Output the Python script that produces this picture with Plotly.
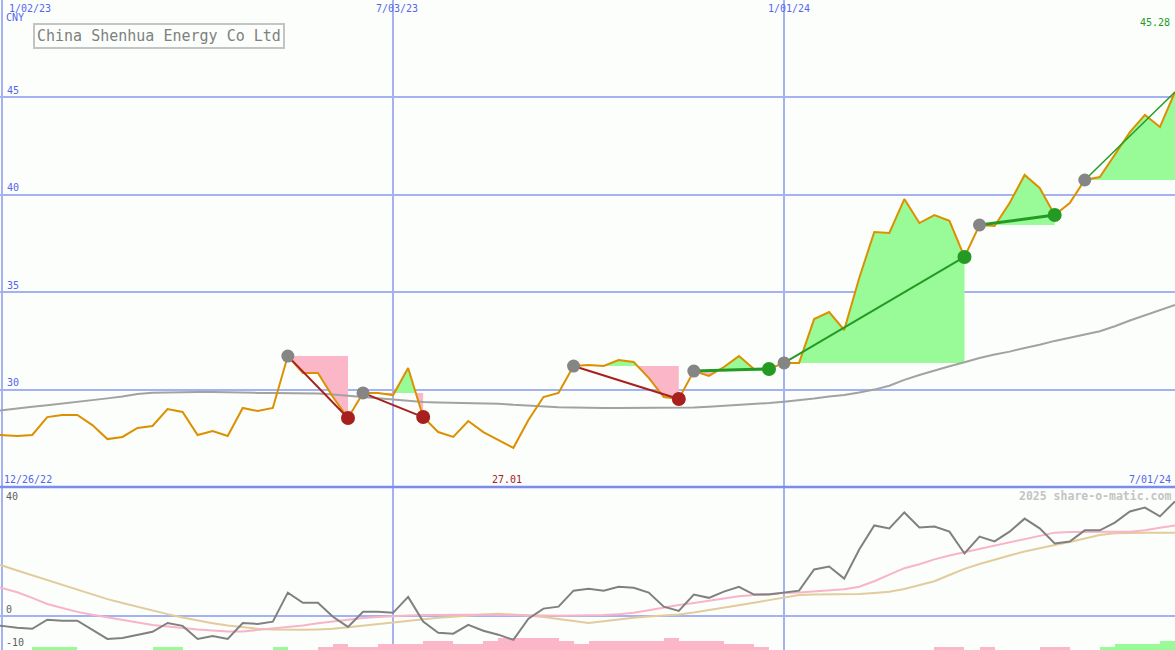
import plotly.graph_objects as go
import pandas as pd

# ---------------- data ----------------
start = pd.Timestamp("2022-12-26")
dates = [start + pd.Timedelta(weeks=i) for i in range(80)]

price = [27.70, 27.67, 27.62, 27.67, 28.59, 28.70, 28.70, 28.18, 27.46, 27.57,
         28.03, 28.13, 29.00, 28.85, 27.67, 27.87, 27.62, 29.06, 28.90, 29.06,
         31.72, 30.85, 30.85, 29.62, 28.54, 29.83, 29.83, 29.72, 31.11, 28.59,
         27.82, 27.57, 28.39, 27.82, 27.41, 27.01, 28.44, 29.62, 29.83, 31.21,
         31.26, 31.21, 31.52, 31.42, 30.60, 29.62, 29.52, 30.95, 30.70, 31.16,
         31.72, 31.06, 31.06, 31.37, 31.37, 33.62, 33.98, 33.06, 35.73, 38.09,
         38.04, 39.78, 38.55, 38.96, 38.66, 36.81, 38.45, 38.40, 39.58, 41.02,
         40.35, 38.96, 39.58, 40.76, 40.91, 42.04, 43.22, 44.10, 43.48, 45.28]

ma = [28.85, 28.95, 29.05, 29.12, 29.20, 29.28, 29.36, 29.45, 29.55, 29.65,
      29.78, 29.84, 29.86, 29.88, 29.88, 29.88, 29.86, 29.83, 29.83, 29.83,
      29.83, 29.83, 29.80, 29.75, 29.68, 29.62, 29.55, 29.48, 29.42, 29.36,
      29.34, 29.33, 29.32, 29.31, 29.28, 29.22, 29.17, 29.12, 29.10, 29.08,
      29.06, 29.06, 29.06, 29.06, 29.06, 29.06, 29.06, 29.08, 29.12, 29.16,
      29.22, 29.27, 29.31, 29.38, 29.45, 29.54, 29.64, 29.72, 29.85, 30.00,
      30.20, 30.50, 30.75, 30.98, 31.20, 31.40, 31.62, 31.80, 31.95, 32.14,
      32.30, 32.50, 32.68, 32.83, 33.00, 33.25, 33.55, 33.80, 34.08, 34.34]

momentum = [-3.0, -3.1, -3.7, -4.0, -1.2, -1.5, -1.5, -4.3, -7.1, -6.8,
            -5.8, -4.9, -2.2, -3.1, -7.1, -6.2, -7.1, -2.2, -2.5, -1.8,
            7.1, 4.0, 4.0, -0.3, -3.4, 1.2, 1.2, 0.9, 5.8, -1.8,
            -5.2, -5.5, -2.8, -4.6, -5.8, -7.4, -0.9, 2.2, 2.8, 7.7,
            8.3, 7.7, 8.9, 8.6, 7.1, 2.8, 1.5, 6.5, 5.5, 7.4,
            8.9, 6.5, 6.5, 7.1, 7.7, 14.2, 15.1, 11.4, 20.3, 27.7,
            26.8, 31.7, 27.1, 27.4, 25.8, 19.1, 24.3, 22.8, 25.8, 29.8,
            26.8, 22.2, 22.8, 26.2, 26.2, 28.6, 32.0, 33.2, 30.5, 35.1]

signal_fast = [9.8, 8.6, 7.2, 5.5, 3.6, 2.4, 1.2, 0.3, -0.5, -1.3,
               -2.0, -2.8, -3.3, -3.8, -4.2, -4.5, -4.8, -4.8, -4.4, -4.0,
               -3.6, -3.0, -2.3, -1.7, -1.2, -0.7, -0.4, -0.1, 0.1, 0.2,
               0.3, 0.3, 0.3, 0.3, 0.3, 0.2, 0.1, 0.1, 0.0, 0.0,
               0.1, 0.2, 0.5, 0.9, 1.7, 2.6, 3.3, 3.9, 4.6, 5.3,
               6.0, 6.4, 6.8, 7.0, 7.1, 7.4, 7.7, 8.1, 8.9, 10.6,
               12.6, 14.6, 15.8, 17.3, 18.5, 19.5, 20.4, 21.4, 22.4, 23.6,
               24.6, 25.5, 25.7, 25.8, 25.8, 25.8, 25.8, 26.2, 27.0, 27.7]

signal_slow = [16.5, 15.4, 13.9, 12.4, 11.0, 9.5, 8.0, 6.5, 5.1, 3.9,
               2.7, 1.5, 0.5, -0.5, -1.5, -2.3, -3.0, -3.6, -4.0, -4.2,
               -4.3, -4.3, -4.2, -4.0, -3.5, -3.0, -2.5, -2.0, -1.5, -1.0,
               -0.6, -0.3, 0.1, 0.4, 0.6, 0.4, 0.1, -0.4, -1.0, -1.6,
               -2.2, -1.7, -1.1, -0.6, -0.2, 0.0, 0.4, 1.0, 1.7, 2.4,
               3.2, 4.0, 4.8, 5.6, 6.4, 6.5, 6.5, 6.5, 6.7, 7.0,
               7.4, 8.2, 9.3, 10.6, 12.5, 14.4, 15.9, 17.3, 18.5, 19.7,
               20.8, 21.7, 22.6, 23.7, 24.8, 25.3, 25.5, 25.5, 25.5, 25.5]

histogram = [0, 0, 0, 1, 1, 1, 0, 0, 0, 0,
             0, 1, 1, 0, 0, 0, 0, 0, 0, 1,
             0, 0, -1, -2, -1, -1, -2, -2, -2, -3,
             -3, -2, -2, -3, -4, -4, -4, -4, -3, -2,
             -3, -3, -3, -3, -3, -4, -3, -3, -3, -2,
             -2, -1, 0, 0, 0, 0, 0, 0, 0, 0,
             0, 0, 0, -1, -1, 0, -1, 0, 0, 0,
             -1, -1, 0, 0, 1, 2, 2, 2, 3, 3]

pivots = [(20, 24), (25, 29), (39, 46), (47, 52), (53, 65), (66, 71), (73, 79)]

title_text = "China Shenhua Energy Co Ltd"
grid_dates = ["2023-01-02", "2023-07-03", "2024-01-01"]
price_ticks = [30, 35, 40, 45]

# ---------------- styles ----------------
BG = "#fbfefb"
GRID = "#a4b2f2"
BLUE_TXT = "#5566ee"
ORANGE = "#dc9000"
GREEN_FILL = "#98fb98"
PINK_FILL = "#fbb6c8"
DOWN = "#a8201e"
UP = "#249a24"
PIVOT = "#858585"
FONT = "DejaVu Sans Mono"
W, H = 1175, 650
seg_widths = [2, 2, 2, 3, 2, 3, 1.5]

fig = go.Figure()

# fills between pivot level and price
for s, e in pivots:
    lvl = price[s]
    xs, ys = [], []
    for k in range(s, e + 1):
        if k > s:
            p0, p1 = price[k - 1] - lvl, price[k] - lvl
            if p0 * p1 < 0:
                f = p0 / (p0 - p1)
                xs.append(dates[k - 1] + (dates[k] - dates[k - 1]) * f)
                ys.append(lvl)
        xs.append(dates[k])
        ys.append(price[k])
    up = [max(v, lvl) for v in ys]
    dn = [min(v, lvl) for v in ys]
    base = [lvl] * len(xs)
    for arr, col in ((up, GREEN_FILL), (dn, PINK_FILL)):
        fig.add_trace(go.Scatter(x=xs, y=base, mode="lines", line=dict(width=0),
                                 hoverinfo="skip", showlegend=False))
        fig.add_trace(go.Scatter(x=xs, y=arr, mode="lines", line=dict(width=0),
                                 fill="tonexty", fillcolor=col,
                                 hoverinfo="skip", showlegend=False))

# moving average
fig.add_trace(go.Scatter(x=dates, y=ma, mode="lines",
                         line=dict(color="#a2a2a2", width=2), showlegend=False))
# price
fig.add_trace(go.Scatter(x=dates, y=price, mode="lines",
                         line=dict(color=ORANGE, width=2), showlegend=False))

# pivot connecting lines
for (s, e), w in zip(pivots, seg_widths):
    col = DOWN if price[e] < price[s] else UP
    fig.add_trace(go.Scatter(x=[dates[s], dates[e]], y=[price[s], price[e]],
                             mode="lines", line=dict(color=col, width=w),
                             showlegend=False))

# markers
starts = [s for s, e in pivots]
ends = [e for s, e in pivots[:-1]]
fig.add_trace(go.Scatter(x=[dates[i] for i in starts], y=[price[i] for i in starts],
                         mode="markers", marker=dict(size=13, color=PIVOT),
                         showlegend=False))
end_cols = [DOWN if price[e] < price[s] else UP for s, e in pivots[:-1]]
fig.add_trace(go.Scatter(x=[dates[i] for i in ends], y=[price[i] for i in ends],
                         mode="markers", marker=dict(size=14, color=end_cols),
                         showlegend=False))

# lower panel
LOW_MIN, LOW_MAX = -10.5, 39.5
unit = 0.92
fig.add_trace(go.Bar(x=dates, y=[abs(h) * unit for h in histogram], base=LOW_MIN,
                     offset=0, width=7 * 86400000,
                     marker=dict(color=[GREEN_FILL if h > 0 else PINK_FILL for h in histogram],
                                 line=dict(width=0)),
                     xaxis="x2", yaxis="y2", showlegend=False))
fig.add_trace(go.Scatter(x=dates, y=signal_slow, mode="lines",
                         line=dict(color="#e2cc9c", width=2),
                         xaxis="x2", yaxis="y2", showlegend=False))
fig.add_trace(go.Scatter(x=dates, y=signal_fast, mode="lines",
                         line=dict(color="#f8b4c8", width=2),
                         xaxis="x2", yaxis="y2", showlegend=False))
fig.add_trace(go.Scatter(x=dates, y=momentum, mode="lines",
                         line=dict(color="#808080", width=2),
                         xaxis="x2", yaxis="y2", showlegend=False))

split = 1 - 487 / H
xr = ["2023-01-01", "2024-07-01"]
fig.update_layout(
    width=W, height=H, margin=dict(l=0, r=0, t=0, b=0),
    paper_bgcolor=BG, plot_bgcolor=BG, showlegend=False, bargap=0,
    xaxis=dict(range=xr, domain=[0, 1], tickvals=grid_dates, showticklabels=False,
               showgrid=True, gridcolor=GRID, gridwidth=1.5, zeroline=False,
               showline=False, anchor="y"),
    yaxis=dict(range=[25, 50], domain=[split, 1], tickvals=price_ticks,
               showticklabels=False, showgrid=True, gridcolor=GRID, gridwidth=2,
               zeroline=False, showline=False),
    xaxis2=dict(range=xr, domain=[0, 1], tickvals=grid_dates, showticklabels=False,
                showgrid=True, gridcolor=GRID, gridwidth=1.5, zeroline=False,
                matches="x", anchor="y2"),
    yaxis2=dict(range=[LOW_MIN, LOW_MAX], domain=[0, split], tickvals=[0],
                showticklabels=False, showgrid=True, gridcolor=GRID, gridwidth=2,
                zeroline=False, showline=False),
)

# divider between panels
fig.add_shape(type="line", xref="paper", yref="paper", x0=0, x1=1, y0=split, y1=split,
              line=dict(color="#7a8cee", width=2.5))


def ann(text, px, py, color, size=10, xa="left", bold=False, **kw):
    fig.add_annotation(text=("<b>%s</b>" % text) if bold else text,
                       x=px / W, y=1 - py / H, xref="paper", yref="paper",
                       xanchor=xa, yanchor="middle", showarrow=False,
                       font=dict(family=FONT, size=size, color=color), **kw)


labels = ["1/02/23", "7/03/23", "1/01/24"]
for lab, px in zip(labels, [7, 374, 766]):
    ann(lab, px, 8, BLUE_TXT)
ann("CNY", 4, 18, BLUE_TXT)
for v in price_ticks:
    py = (50 - v) * 487 / 25 - 7
    ann(str(v), 5, py, BLUE_TXT)
ann("%.2f" % price[-1], 1172, 22, UP, xa="right")
ann("12/26/22", 2, 479, BLUE_TXT)
ann("%.2f" % min(price), 490, 479, DOWN)
ann("7/01/24", 1173, 479, BLUE_TXT, xa="right")
ann("40", 4, 496, "#606060")
ann("0", 4, 609, "#606060")
ann("-10", 4, 642, "#606060")
ann("2025 share-o-matic.com", 1173, 496, "#c4c4c4", size=11.5, xa="right", bold=True)
ann(title_text, 33, 36.5, "#808080", size=15, bordercolor="#c4c4c4", borderwidth=2,
    borderpad=2, bgcolor=BG)

fig.write_html("out.html", config={"displayModeBar": False},
               post_script="document.body.style.margin='0';document.body.style.overflow='hidden';")
